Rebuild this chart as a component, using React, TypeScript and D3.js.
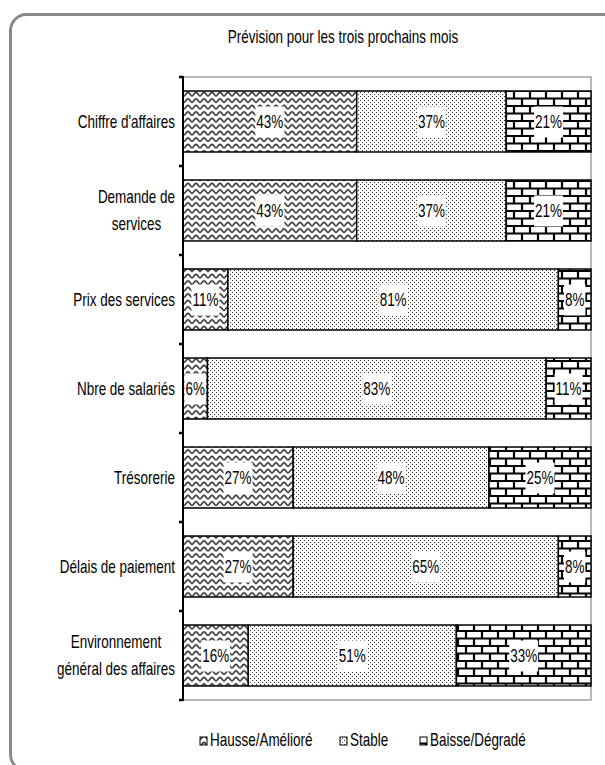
import React, { useEffect, useRef } from "react";
import * as d3 from "d3";

const title = "Prévision pour les trois prochains mois";
const categories = [
  "Chiffre d'affaires",
  "Demande de\nservices",
  "Prix des services",
  "Nbre de salariés",
  "Trésorerie",
  "Délais de paiement",
  "Environnement\ngénéral des affaires",
];
const seriesNames = ["Hausse/Amélioré", "Stable", "Baisse/Dégradé"];
const hausse = [43, 43, 11, 6, 27, 27, 16];
const stable = [37, 37, 81, 83, 48, 65, 51];
const baisse = [21, 21, 8, 11, 25, 8, 33];
const patternIds = ["pWave", "pDots", "pBrick"];

const FONT = "'Liberation Sans', Arial, sans-serif";
const FS = 17.5;
const SQ = 0.77;

type Sel = d3.Selection<any, unknown, null, undefined>;

function ntext(parent: Sel, x: number, y: number, str: string, anchor = "start") {
  const t = parent.append("text")
    .attr("transform", `translate(${x},${y}) scale(${SQ},1)`)
    .attr("text-anchor", anchor)
    .attr("font-family", FONT).attr("font-size", FS).attr("fill", "#000").text(str);
  const w = (t.node() as SVGTextElement).getComputedTextLength() * SQ;
  return { t, w };
}

export default function App() {
  const ref = useRef<SVGSVGElement | null>(null);

  useEffect(() => {
    const svg = d3.select(ref.current);
    svg.selectAll("*").remove();

    const defs = svg.append("defs");
    const pw = defs.append("pattern").attr("id", "pWave").attr("patternUnits", "userSpaceOnUse")
      .attr("width", 8).attr("height", 6.5);
    pw.append("rect").attr("width", 8).attr("height", 6.5).attr("fill", "#fff");
    pw.append("path").attr("d", "M0,5 C1.5,5 2.5,1.2 4,1.2 C5.5,1.2 6.5,5 8,5")
      .attr("fill", "none").attr("stroke", "#333").attr("stroke-width", 1.6);
    const pd = defs.append("pattern").attr("id", "pDots").attr("patternUnits", "userSpaceOnUse")
      .attr("width", 4).attr("height", 4);
    pd.append("rect").attr("width", 4).attr("height", 4).attr("fill", "#fff");
    pd.append("rect").attr("x", 0).attr("y", 0).attr("width", 1).attr("height", 1).attr("fill", "#333");
    pd.append("rect").attr("x", 2).attr("y", 2).attr("width", 1).attr("height", 1).attr("fill", "#333");
    const pb = defs.append("pattern").attr("id", "pBrick").attr("patternUnits", "userSpaceOnUse")
      .attr("width", 16).attr("height", 15);
    pb.append("rect").attr("width", 16).attr("height", 15).attr("fill", "#fff");
    pb.append("path")
      .attr("d", "M0,1 H16 M0,8.5 H16 M2,1 V8.5 M10,8.5 V15")
      .attr("fill", "none").attr("stroke", "#000").attr("stroke-width", 2.2);

    svg.append("rect").attr("x", 10.5).attr("y", 14.5).attr("width", 700).attr("height", 756)
      .attr("rx", 16).attr("fill", "none").attr("stroke", "#8a8a8a").attr("stroke-width", 3);

    ntext(svg, 343, 43, title, "middle");

    const y = d3.scaleBand<string>().domain(categories).range([77, 700])
      .paddingInner(0.315).paddingOuter(0.1575);
    const x = d3.scaleLinear().domain([0, 1]).range([183, 591]);

    const rows = categories.map((c, i) => ({ cat: c, h: hausse[i], s: stable[i], b: baisse[i] }));
    const stack = d3.stack<any>().keys(["h", "s", "b"]).offset(d3.stackOffsetExpand);
    const stacked = stack(rows);

    svg.append("rect").attr("x", 183).attr("y", 77).attr("width", 591 - 183).attr("height", 700 - 77)
      .attr("fill", "none").attr("stroke", "#a0a0a0").attr("stroke-width", 1.5);

    const barG = svg.append("g");
    stacked.forEach((layer, li) => {
      layer.forEach((seg, ci) => {
        const x0 = x(seg[0]);
        const x1 = x(seg[1]);
        barG.append("rect")
          .attr("x", x0).attr("y", y(categories[ci])!)
          .attr("width", x1 - x0).attr("height", y.bandwidth())
          .attr("fill", `url(#${patternIds[li]})`)
          .attr("stroke", "#000").attr("stroke-width", 1.5);
      });
    });

    const labG = svg.append("g");
    stacked.forEach((layer, li) => {
      layer.forEach((seg, ci) => {
        const val = [hausse, stable, baisse][li][ci];
        const cx = (x(seg[0]) + x(seg[1])) / 2;
        const cy = y(categories[ci])! + y.bandwidth() / 2;
        const g = labG.append("g");
        const r = g.append("rect").attr("fill", "#fff");
        const { w } = ntext(g, cx, cy + 6, `${val}%`, "middle");
        r.attr("x", cx - w / 2 - 1).attr("y", cy - 15).attr("width", w + 2).attr("height", 31);
      });
    });

    svg.append("line").attr("x1", 183).attr("x2", 183).attr("y1", 76).attr("y2", 701)
      .attr("stroke", "#000").attr("stroke-width", 2);
    const step = y.step();
    for (let i = 0; i <= categories.length; i++) {
      const ty = 77 + i * step;
      svg.append("line").attr("x1", 179).attr("x2", 183).attr("y1", ty).attr("y2", ty)
        .attr("stroke", "#000").attr("stroke-width", 2.5);
    }

    categories.forEach((c) => {
      const lines = c.split("\n");
      const cy = y(c)! + y.bandwidth() / 2;
      const lh = 27;
      const g = svg.append("g");
      const items = lines.map((ln, k) =>
        ntext(g, 0, cy + 6 + (k - (lines.length - 1) / 2) * lh, ln, "middle")
      );
      const maxW = d3.max(items, (d) => d.w) || 0;
      items.forEach((d, k) =>
        d.t.attr("transform",
          `translate(${175 - maxW / 2},${cy + 6 + (k - (lines.length - 1) / 2) * lh}) scale(${SQ},1)`)
      );
    });

    const legendX = [200, 340, 420];
    seriesNames.forEach((n, i) => {
      svg.append("rect").attr("x", legendX[i]).attr("y", 737).attr("width", 7).attr("height", 8)
        .attr("fill", `url(#${patternIds[i]})`).attr("stroke", "#000").attr("stroke-width", 1);
      ntext(svg, legendX[i] + 10, 746, n);
    });
  }, []);

  return (
    <svg ref={ref} width={605} height={765}
      style={{ position: "absolute", left: 0, top: 0, background: "#fff" }} />
  );
}
